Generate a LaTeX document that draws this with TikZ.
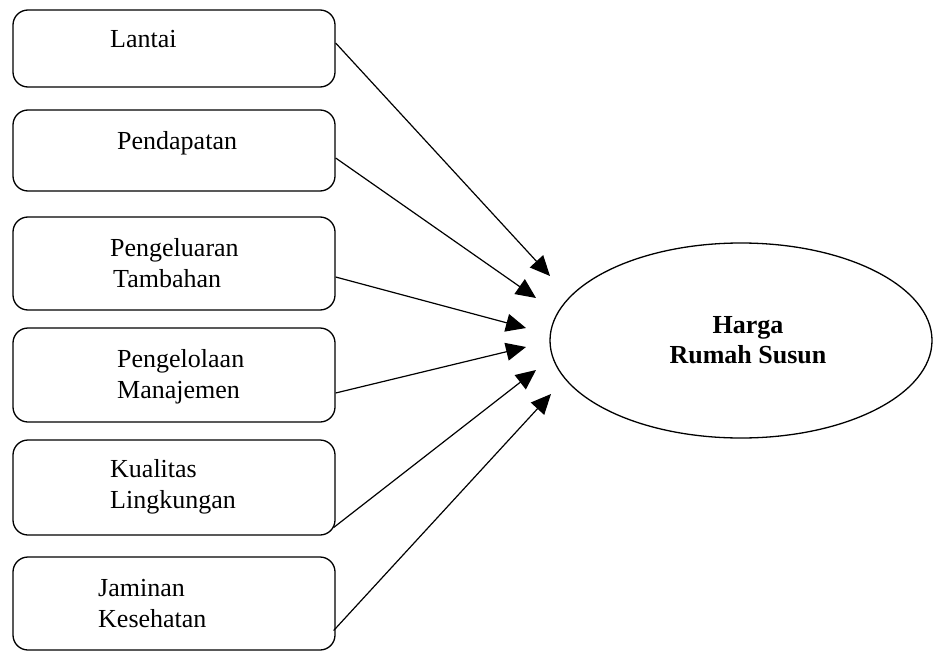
\documentclass[tikz,border=0pt]{standalone}
\usepackage{fontspec}
\setmainfont{Liberation Serif}
\usetikzlibrary{arrows.meta,shapes.geometric}
\begin{document}
\begin{tikzpicture}[x=1pt,y=-1pt]
        \tikzstyle{factorbox}=[rectangle, draw, rounded corners=15pt, line width=1.3pt, inner sep=0pt, minimum width=322pt]
        \tikzstyle{factortext}=[inner sep=0pt, anchor=base west, align=left, font=\fontsize{26}{30.5}\selectfont]
        \tikzstyle{targetnode}=[ellipse, draw, line width=1.3pt, inner sep=0pt, minimum width=382pt, minimum height=195pt, align=center, font=\fontsize{26}{30}\selectfont\bfseries]
        \tikzstyle{influence}=[line width=1.2pt, -{Triangle[length=20pt,width=18pt]}]
        \useasboundingbox (0,0) rectangle (933,650);
        % factor boxes
        \foreach \i/\top/\bot in {1/10/87, 2/110/191, 3/217/310, 4/328/422, 5/440/535, 6/557/650}
            \node[factorbox, minimum height={(\bot-\top)*1pt}] (b\i) at (174,{(\top+\bot)/2}) {};
        % labels, anchored at the baseline of the last line
        \node[factortext] (l1) at (110,48) {Lantai};
        \node[factortext] (l2) at (117,149) {Pendapatan};
        \node[factortext] (l3) at (110,287) {Pengeluaran\\\hspace*{3pt}Tambahan};
        \node[factortext] (l4) at (117,398) {Pengelolaan\\Manajemen};
        \node[factortext] (l5) at (110,508) {Kualitas\\Lingkungan};
        \node[factortext] (l6) at (98,627) {Jaminan\\Kesehatan};
        % dependent variable
        \node[targetnode] (harga) at (741,340.5) {\hspace*{14pt}Harga\\\hspace*{14pt}Rumah Susun};
        \coordinate (t1) at (550,276);
        \coordinate (t2) at (536,298);
        \coordinate (t3) at (526,328);
        \coordinate (t4) at (526,347);
        \coordinate (t5) at (536,370);
        \coordinate (t6) at (551,394);
        \draw[influence] ([yshift=5.5pt]b1.east) -- (t1);
        \draw[influence] ([yshift=-7.5pt]b2.east) -- (t2);
        \draw[influence] ([yshift=-13.5pt]b3.east) -- (t3);
        \draw[influence] ([yshift=-18pt]b4.east) -- (t4);
        \draw[influence] ([xshift=-2pt,yshift=-40pt]b5.east) -- (t5);
        \draw[influence] ([xshift=-2pt,yshift=-27pt]b6.east) -- (t6);
\end{tikzpicture}
\end{document}
